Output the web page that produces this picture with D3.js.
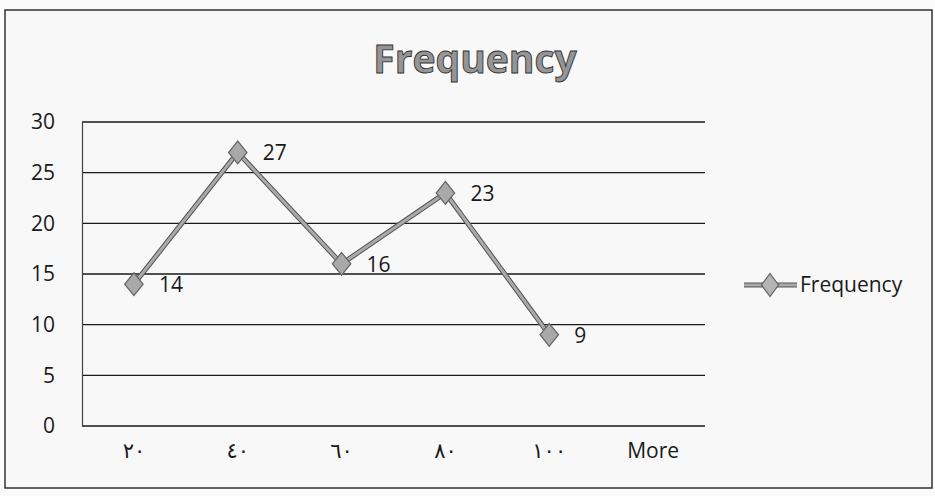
<!DOCTYPE html>
<html><head><meta charset="utf-8">
<script src="https://cdn.jsdelivr.net/npm/d3@7"></script>
<style>html,body{margin:0;padding:0;background:#fff;}</style>
</head><body>
<script>
const categories = ["٢٠", "٤٠", "٦٠", "٨٠", "١٠٠", "More"];
const frequency = [14, 27, 16, 23, 9, null];
const yTicks = [0, 5, 10, 15, 20, 25, 30];
const seriesName = "Frequency";
const chartTitle = "Frequency";

(function(){
const W = 935, H = 496;
const svg = d3.select("body").append("svg").attr("width", W).attr("height", H);
const font = "'Open Sans', 'DejaVu Sans', sans-serif";
const fs = 21;

svg.append("rect").attr("x",0).attr("y",0).attr("width",W).attr("height",H).attr("fill","#fbfbfb");
svg.append("rect").attr("x",5).attr("y",10).attr("width",927).attr("height",478)
  .attr("fill","#f8f8f8").attr("stroke","#333").attr("stroke-width",1.5);

const pLeft = 82, pRight = 705, pTop = 122, pBottom = 426;
const x = d3.scaleBand().domain(categories).range([pLeft, pRight]);
const y = d3.scaleLinear().domain([0, 30]).range([pBottom, pTop]);

// gridlines
svg.append("g").selectAll("line").data(yTicks).join("line")
  .attr("x1", pLeft).attr("x2", pRight)
  .attr("y1", d => y(d)).attr("y2", d => y(d))
  .attr("stroke", "#1a1a1a").attr("stroke-width", 1.4);

// y axis
const yAxis = svg.append("g").attr("transform", `translate(${pLeft},0)`)
  .call(d3.axisLeft(y).tickValues(yTicks).tickSize(0).tickPadding(27));
yAxis.select(".domain").attr("stroke", "#444").attr("stroke-width", 1.2);
yAxis.selectAll("text").attr("font-family", font).attr("font-size", fs).attr("fill", "#1a1a1a");

// x axis
const xAxis = svg.append("g").attr("transform", `translate(0,${pBottom})`)
  .call(d3.axisBottom(x).tickSize(0).tickPadding(17));
xAxis.select(".domain").remove();
xAxis.selectAll("text").attr("font-family", font).attr("font-size", fs).attr("fill", "#1a1a1a");

// title
svg.append("text").attr("x", 475).attr("y", 73).attr("text-anchor", "middle")
  .attr("font-family", font).attr("font-weight", "bold").attr("font-size", 39)
  .attr("fill", "#959595").attr("stroke", "#333").attr("stroke-width", 0.9)
  .text(chartTitle);

const pts = categories.map((c, i) => ({c, v: frequency[i]})).filter(d => d.v != null);
const line = d3.line().x(d => x(d.c) + x.bandwidth()/2).y(d => y(d.v));

svg.append("path").datum(pts).attr("d", line).attr("fill", "none")
  .attr("stroke", "#555").attr("stroke-width", 5).attr("stroke-linejoin", "round");
svg.append("path").datum(pts).attr("d", line).attr("fill", "none")
  .attr("stroke", "#aaaaaa").attr("stroke-width", 3).attr("stroke-linejoin", "round");

const diamond = d3.symbol().type(d3.symbolDiamond).size(150);
svg.append("g").selectAll("path").data(pts).join("path")
  .attr("d", diamond)
  .attr("transform", d => `translate(${x(d.c) + x.bandwidth()/2},${y(d.v)}) scale(1.4,1)`)
  .attr("fill", "#a9a9a9").attr("stroke", "#666").attr("stroke-width", 1);

svg.append("g").selectAll("text").data(pts).join("text")
  .attr("x", d => x(d.c) + x.bandwidth()/2 + 25)
  .attr("y", d => y(d.v) + 8)
  .attr("font-family", font).attr("font-size", fs).attr("fill", "#1a1a1a")
  .text(d => d.v);

// legend
const lg = svg.append("g").attr("transform", "translate(744,285)");
lg.append("line").attr("x1",0).attr("x2",53).attr("y1",0).attr("y2",0).attr("stroke","#555").attr("stroke-width",5);
lg.append("line").attr("x1",0).attr("x2",53).attr("y1",0).attr("y2",0).attr("stroke","#aaaaaa").attr("stroke-width",3);
lg.append("path").attr("d", diamond).attr("transform","translate(26,0) scale(1.3,1)")
  .attr("fill","#b4b4b4").attr("stroke","#666").attr("stroke-width",1);
lg.append("text").attr("x", 56).attr("y", 7).attr("font-family", font).attr("font-size", fs)
  .attr("fill", "#1a1a1a").text(seriesName);
})();
</script>
</body></html>
